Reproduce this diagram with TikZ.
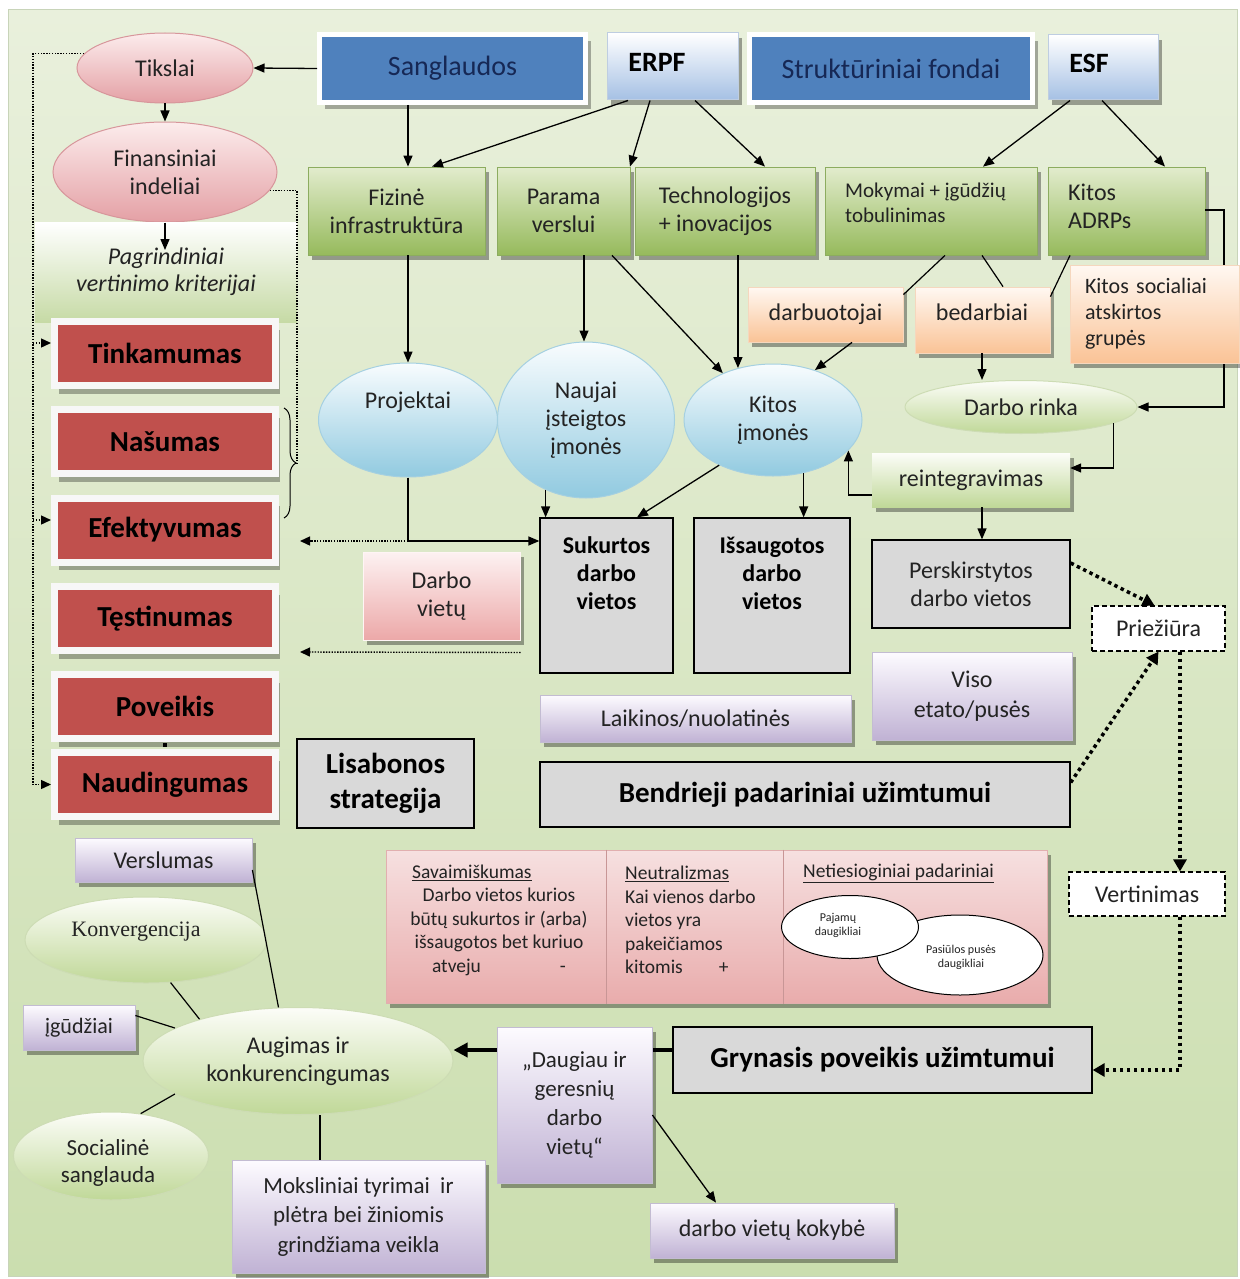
\documentclass[tikz,border=0pt]{standalone}
\usepackage{fontspec}
\setmainfont{Carlito}
\newfontfamily\serifo{Liberation Serif}
\usetikzlibrary{shapes.geometric,arrows.meta,shadows,decorations.pathreplacing,calc}
\definecolor{bgA}{RGB}{233,240,220}
\definecolor{bgB}{RGB}{203,222,175}
\definecolor{bgline}{RGB}{200,212,185}
\definecolor{bluefill}{RGB}{79,129,189}
\definecolor{bluetext}{RGB}{22,40,85}
\definecolor{fundbot}{RGB}{165,192,228}
\definecolor{fundborder}{RGB}{190,205,225}
\definecolor{redfill}{RGB}{192,80,77}
\definecolor{pinktop}{RGB}{252,236,236}
\definecolor{pinkbot}{RGB}{228,160,165}
\definecolor{pinkborder}{RGB}{215,150,155}
\definecolor{critbot}{RGB}{198,218,165}
\definecolor{gtop}{RGB}{226,236,205}
\definecolor{gbot}{RGB}{150,186,92}
\definecolor{gborder}{RGB}{140,172,95}
\definecolor{ptop}{RGB}{255,248,242}
\definecolor{pbot}{RGB}{250,195,150}
\definecolor{pborder}{RGB}{245,215,190}
\definecolor{btop}{RGB}{248,252,254}
\definecolor{bbot}{RGB}{145,202,224}
\definecolor{bborder}{RGB}{165,208,225}
\definecolor{lgtop}{RGB}{252,253,248}
\definecolor{lgbot}{RGB}{192,216,152}
\definecolor{lgborder}{RGB}{205,220,180}
\definecolor{vtop}{RGB}{253,251,255}
\definecolor{vbot}{RGB}{192,178,212}
\definecolor{vborder}{RGB}{195,188,210}
\definecolor{grayfill}{RGB}{217,217,217}
\definecolor{tabtop}{RGB}{246,224,224}
\definecolor{tabbot}{RGB}{233,172,172}
\definecolor{tabborder}{RGB}{225,175,175}
\definecolor{tabdiv}{RGB}{200,150,150}
\definecolor{dvtop}{RGB}{253,242,242}
\definecolor{dvbot}{RGB}{236,168,168}
\definecolor{txt}{RGB}{35,35,35}
\begin{document}
\begin{tikzpicture}[x=1pt,y=-1pt,
 every node/.style={inner sep=0pt, align=center, text=txt, font=\fontsize{24}{28}\selectfont},
 shad/.style={drop shadow={shadow xshift=4pt,shadow yshift=-5pt,opacity=0.35,fill=black}},
 bluebox/.style={rectangle, fill=bluefill, draw=white, line width=5pt, text=bluetext, font=\fontsize{28}{32}\selectfont, drop shadow={shadow xshift=5pt,shadow yshift=-7pt,opacity=0.3,fill=black}},
 fundbox/.style={rectangle, top color=white, bottom color=fundbot, draw=fundborder, line width=1pt, shad},
 fundtxt/.style={font=\bfseries\fontsize{28}{32}\selectfont, text=black},
 pinkell/.style={ellipse, top color=pinktop, bottom color=pinkbot, draw=pinkborder, line width=1pt},
 critbox/.style={rectangle, top color=white, bottom color=critbot, draw=none},
 redbox/.style={rectangle, fill=redfill, draw=white!94!gray, line width=7pt, minimum width=221pt, minimum height=64pt, font=\bfseries\fontsize{29}{32}\selectfont, text=black, drop shadow={shadow xshift=4pt,shadow yshift=-8pt,opacity=0.3,fill=black}},
 greenbox/.style={rectangle, top color=gtop, bottom color=gbot, draw=gborder, line width=0.8pt, shad},
 peachbox/.style={rectangle, top color=ptop, bottom color=pbot, draw=pborder, line width=0.8pt, shad},
 blueell/.style={ellipse, top color=btop, bottom color=bbot, draw=bborder, line width=1pt},
 lgell/.style={ellipse, top color=lgtop, bottom color=lgbot, draw=lgborder, line width=1pt},
 lgbox/.style={rectangle, top color=lgtop, bottom color=lgbot, draw=none, shad},
 graybox/.style={rectangle, fill=grayfill, draw=black, line width=1.3pt},
 pinkbox/.style={rectangle, top color=dvtop, bottom color=dvbot, draw=white!85!pink, line width=1pt, shad},
 violbox/.style={rectangle, top color=vtop, bottom color=vbot, draw=vborder, line width=0.8pt, shad},
 dashbox/.style={rectangle, fill=white, draw=black, line width=1.2pt, dash pattern=on 5pt off 3pt},
 tabbox/.style={rectangle, top color=tabtop, bottom color=tabbot, draw=tabborder, line width=1pt, shad},
 tabtxt/.style={font=\fontsize{19.5}{23.5}\selectfont},
 boldtxt/.style={font=\bfseries\fontsize{24}{28}\selectfont, text=black},
 bigbold/.style={font=\bfseries\fontsize{29}{35}\selectfont, text=black},
 arr/.style={line width=1.3pt, -{Triangle[length=11pt,width=9pt]}},
 ln/.style={line width=1.2pt},
 thindot/.style={line width=1.4pt, dash pattern=on 1.4pt off 1.4pt},
 thindotarr/.style={thindot, -{Triangle[length=10pt,width=9pt]}},
 thickdot/.style={line width=3.5pt, dash pattern=on 3.5pt off 3.5pt, -{Triangle[length=12pt,width=13pt]}},
]
\useasboundingbox (0,0) rectangle (1239,1279);
\shade[top color=bgA, bottom color=bgB, draw=bgline, line width=1pt] (8,10) rectangle (1237,1276);

% ---- top row
\node[bluebox, minimum width=266pt, minimum height=68pt] (sang) at (452.5,68.5) {Sanglaudos};
\node[fundbox, minimum width=131pt, minimum height=67pt] (erpf) at (672.5,66.5) {};
\node[fundtxt] (erpfT) at (657,62) {ERPF};
\node[bluebox, minimum width=283pt, minimum height=68pt] (struk) at (891,68.5) {Struktūriniai fondai};
\node[fundbox, minimum width=110pt, minimum height=65pt] (esf) at (1103,67.5) {};
\node[fundtxt] (esfT) at (1089,63) {ESF};

% ---- left column
\node[pinkell, minimum width=176pt, minimum height=70pt] (tik) at (165,68) {Tikslai};
\node[pinkell, minimum width=224pt, minimum height=100pt] (fin) at (165,172) {Finansiniai\\indeliai};
\node[critbox, minimum width=262pt, minimum height=100pt, font=\itshape\fontsize{24}{27}\selectfont] (pag) at (166,272) {Pagrindiniai\\vertinimo kriterijai};
\node[redbox] (tink) at (165,353.5) {Tinkamumas};
\node[redbox] (nas) at (165,441.5) {Našumas};
\node[redbox] (efe) at (165,530) {Efektyvumas};
\node[redbox] (tes) at (165,618.5) {Tęstinumas};
\node[redbox] (pov) at (165,706.5) {Poveikis};
\node[redbox] (nau) at (165,784.5) {Naudingumas};
\node[fill=black, minimum size=4pt] (sq) at (165,745) {};
\draw[line width=1pt, decorate, decoration={brace,amplitude=12pt}] (284,408) -- (284,518);
\coordinate (bracetip) at (297,463);

% ---- green row
\node[greenbox, minimum width=177pt, minimum height=88pt] (fiz) at (396.5,211) {Fizinė\\infrastruktūra};
\node[greenbox, minimum width=133pt, minimum height=88pt] (par) at (563.5,211) {Parama\\verslui};
\node[greenbox, minimum width=180pt, minimum height=88pt, align=left] (tech) at (725,211) {Technologijos\\+ inovacijos};
\node[greenbox, minimum width=212pt, minimum height=88pt] (mok) at (931,211) {};
\node[anchor=west, align=left, font=\fontsize{21}{25}\selectfont] (mokT) at (845,202.5) {Mokymai + įgūdžių\\tobulinimas};
\node[greenbox, minimum width=157pt, minimum height=88pt] (kad) at (1126.5,211) {};
\node[anchor=west, align=left] (kadT) at (1068,206) {Kitos\\ADRPs};
\node[lgell, minimum width=232pt, minimum height=53pt] (drk) at (1021,407) {Darbo rinka};
\draw[arr] (kad.east |- 0,210) -- (1224,210) |- (drk.east);

% ---- peach boxes
\node[peachbox, minimum width=155pt, minimum height=55pt] (darbuot) at (825.5,314.5) {darbuotojai};
\node[peachbox, minimum width=135pt, minimum height=66pt] (bedarb) at (982.5,320) {};
\node (bedarbT) at (982,312) {bedarbiai};
\node[peachbox, minimum width=169pt, minimum height=98pt, text width=139pt, align=left, inner xsep=15pt, font=\fontsize{22}{26}\selectfont] (kitsoc) at (1154.5,314) {Kitos socialiai\\atskirtos\\grupės};

% ---- ellipses
\node[blueell, minimum width=179pt, minimum height=114pt] (proj) at (408,420) {};
\node (projT) at (408,402) {Projektai};
\node[blueell, minimum width=177pt, minimum height=156pt] (nauj) at (586,420) {Naujai\\įsteigtos\\įmonės};
\node[blueell, minimum width=178pt, minimum height=112pt] (kitim) at (773,420) {Kitos\\įmonės};
\node[lgbox, minimum width=198pt, minimum height=54pt] (reint) at (971,480) {reintegravimas};

% ---- gray boxes
\node[graybox, minimum width=133pt, minimum height=155pt] (suk) at (606.5,595.5) {};
\node[boldtxt] (sukT) at (606.5,573) {Sukurtos\\darbo\\vietos};
\node[graybox, minimum width=156pt, minimum height=155pt] (isa) at (772,595.5) {};
\node[boldtxt] (isaT) at (772,573) {Išsaugotos\\darbo\\vietos};
\node[graybox, minimum width=198pt, minimum height=88pt] (pers) at (971,584) {Perskirstytos\\darbo vietos};
\node[pinkbox, minimum width=157pt, minimum height=88pt] (darbv) at (441.5,596) {Darbo\\vietų};
\node[violbox, minimum width=311pt, minimum height=47pt] (laik) at (695.5,718.5) {Laikinos/nuolatinės};
\node[violbox, minimum width=200pt, minimum height=88pt, font=\fontsize{24}{30}\selectfont] (viso) at (972,696) {Viso\\etato/pusės};
\node[dashbox, minimum width=133pt, minimum height=45pt] (prie) at (1158.5,628.5) {Priežiūra};
\node[dashbox, minimum width=156pt, minimum height=44pt] (vert) at (1147,894) {Vertinimas};
\node[graybox, minimum width=177pt, minimum height=89pt, bigbold] (lis) at (385.5,783.5) {Lisabonos\\strategija};
\node[graybox, minimum width=530pt, minimum height=65pt, bigbold] (bend) at (805,794.5) {Bendrieji padariniai užimtumui};

% ---- table
\node[tabbox, minimum width=661pt, minimum height=153pt] (tab) at (716.5,926.5) {};
\draw[line width=0.8pt, tabdiv] (606,0 |- tab.north) -- (606,0 |- tab.south);
\draw[line width=0.8pt, tabdiv] (783,0 |- tab.north) -- (783,0 |- tab.south);
\node[tabtxt, anchor=west] (h1) at (412,873) {\underline{Savaimiškumas}};
\node[tabtxt] (c1) at (499,932) {Darbo vietos kurios\\būtų sukurtos ir (arba)\\išsaugotos bet kuriuo\\atveju\hspace{79pt}-};
\node[tabtxt, anchor=west, align=left] (c2) at (625,920) {\underline{Neutralizmas}\\Kai vienos darbo\\vietos yra\\pakeičiamos\\kitomis\hspace{36pt}+};
\node[tabtxt, anchor=west] (h3) at (803,873) {\underline{Netiesioginiai padariniai}};
\node[ellipse, fill=white, draw=black, line width=1pt, minimum width=166pt, minimum height=80pt] (e2) at (960,955) {};
\node[ellipse, fill=white, draw=black, line width=1pt, minimum width=137pt, minimum height=63pt] (e1) at (850,927) {};
\node[font=\fontsize{12}{14}\selectfont] (e1T) at (838,925) {Pajamų\\daugikliai};
\node[font=\fontsize{12}{14}\selectfont] (e2T) at (961,957) {Pasiūlos pusės\\daugikliai};

% ---- bottom
\node[violbox, minimum width=177pt, minimum height=44pt] (vers) at (163.5,860) {Verslumas};
\node[lgell, minimum width=242pt, minimum height=86pt] (konv) at (146,940) {};
\node[font=\serifo\fontsize{22}{26}\selectfont] (konvT) at (136,932) {Konvergencija};
\node[violbox, minimum width=112pt, minimum height=45pt, font=\fontsize{22}{26}\selectfont] (igud) at (79,1027.5) {įgūdžiai};
\node[lgell, minimum width=310pt, minimum height=107pt] (aug) at (298,1061) {Augimas ir\\konkurencingumas};
\node[lgell, minimum width=195pt, minimum height=88pt] (soc) at (111,1156) {};
\node[font=\fontsize{23}{27}\selectfont] (socT) at (108,1163) {Socialinė\\sanglauda};
\node[violbox, minimum width=253pt, minimum height=113pt, font=\fontsize{23}{29.5}\selectfont] (mok2) at (358.5,1216.5) {Moksliniai tyrimai\ \ ir\\plėtra bei žiniomis\\grindžiama veikla};
\node[graybox, minimum width=419pt, minimum height=66pt, bigbold] (gryn) at (882.5,1060) {Grynasis poveikis užimtumui};
\draw[line width=4.5pt, -{Triangle[length=14pt,width=14pt]}] (gryn.west |- 0,1050) -- (aug.east |- 0,1050);
\node[violbox, minimum width=155pt, minimum height=156pt, font=\fontsize{23}{29}\selectfont] (daug) at (574.5,1105) {„Daugiau ir\\geresnių\\darbo\\vietų“};
\node[violbox, minimum width=244pt, minimum height=55pt] (kok) at (772,1230.5) {darbo vietų kokybė};

% ---- connectors top
\coordinate (pagin) at (165,250);
\draw[arr] (sang.west) -- (tik.east);
\draw[arr] (tik.south) -- (fin.north);
\draw[arr] (fin.south) -- (pagin);
\draw[arr] (408,0 |- sang.south) -- (408,0 |- fiz.north);
\draw[arr] (628,0 |- erpf.south) -- (432,0 |- fiz.north);
\draw[arr] (650,0 |- erpf.south) -- (630,0 |- par.north);
\draw[arr] (695,0 |- erpf.south) -- (765,0 |- tech.north);
\draw[arr] (1070,0 |- esf.south) -- (983,0 |- mok.north);
\draw[arr] (1102,0 |- esf.south) -- (1165,0 |- kad.north);
\draw[arr] (408,0 |- fiz.south) -- (proj.north);
\draw[arr] (584,0 |- par.south) -- (584,0 |- nauj.north);
\draw[arr] (612,0 |- par.south) -- (kitim.137);
\draw[arr] (tech.south -| kitim.124) -- (kitim.124);
\draw[arr] (852,0 |- darbuot.south) -- (kitim.50);
\draw[ln] (945,0 |- mok.south) -- ([yshift=-8pt]darbuot.north east);
\draw[ln] (982,0 |- mok.south) -- (1003,0 |- bedarb.north);
\draw[ln] (1070,0 |- kad.south) -- ([yshift=-10pt]bedarb.north east);
\draw[arr] (982,0 |- bedarb.south) -- (982,0 |- drk.north);
\draw[arr] (drk.-10) |- ([yshift=12pt]reint.east);
\draw[arr] ([yshift=-15pt]reint.west) -| (kitim.-22);
\draw[arr] (982,0 |- reint.south) -- (982,0 |- pers.north);
\draw[arr] (kitim.-60) -- (kitim.-60 |- isa.north);
\draw[arr] (kitim.-140) -- (637,0 |- suk.north);
\draw[arr] (nauj.-120) -- (nauj.-120 |- suk.north);
\coordinate (jy) at (0,541);
\draw[arr] (proj.south) |- (suk.west |- jy);
\draw[thindotarr] (proj.south |- jy) -- (300,0 |- jy);
\draw[thindotarr] ([yshift=-12pt]darbv.south east) -- (300,652);

% ---- left dotted
\coordinate (lx) at (33,0);
\draw[thindotarr] (tik.170) -- (lx |- tik.170) -- (lx |- nau.west) -- (nau.west);
\draw[thindotarr] (lx |- 0,343) -- (tink.west |- 0,343);
\draw[thindotarr] (lx |- 0,520) -- (efe.west |- 0,520);
\draw[thindot] (fin.-10) -- (297,0 |- fin.-10) -- (bracetip);

% ---- thick dotted
\draw[thickdot] ([yshift=21pt]pers.east) -- ([xshift=-4pt]prie.north);
\draw[thickdot] ([yshift=12pt]bend.east) -- (prie.south);
\coordinate (vx) at (1180,0);
\draw[thickdot] (prie.south -| vx) -- (vert.north -| vx);
\draw[thickdot] (vert.south -| vx) |- ([yshift=-10pt]gryn.east);

% ---- bottom lines
\draw[ln] ([yshift=-10pt]vers.east) -- (aug.110);
\draw[ln] (konv.-60) -- (aug.157);
\draw[ln] ([yshift=12pt]igud.east) -- (aug.165);
\draw[ln] (soc.55) -- (aug.-165);
\coordinate (mx) at (320,0);
\draw[ln] (aug.south -| mx) -- (mok2.north -| mx);
\draw[arr] (daug.east |- 0,1115) -- (716,0 |- kok.north);
\end{tikzpicture}
\end{document}
